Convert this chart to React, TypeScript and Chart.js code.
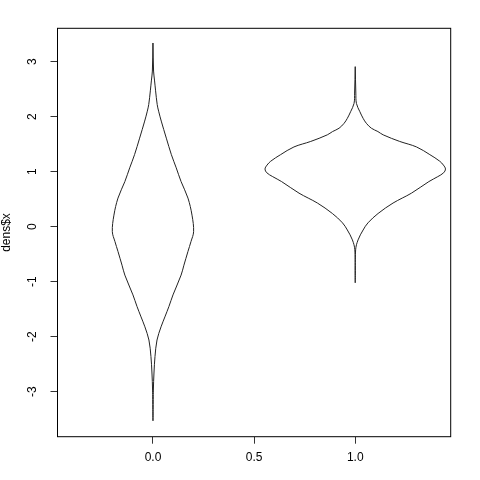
import React, { useEffect, useRef } from "react";
import { Chart, registerables } from "chart.js";

Chart.register(...registerables);

// Axis ticks
const xTickValues = [0, 0.5, 1];
const yTickValues = [-3, -2, -1, 0, 1, 2, 3];
const yAxisTitle = "dens$x";

// Violin centres (x) and half-width profiles
const violinCenters = [0, 1];

const violin1Y = [3.34, 2.83, 2.65, 2.47, 2.22, 2.1, 1.92, 1.61, 1.31, 1.07, 0.82, 0.52, 0.21, -0.09, -0.27, -0.45, -0.7, -0.88, -1.24, -1.45, -1.64, -1.82, -2.06, -2.36, -2.66, -2.97, -3.53];
const violin1W = [0, 0.003, 0.008, 0.013, 0.021, 0.028, 0.041, 0.066, 0.091, 0.115, 0.139, 0.173, 0.193, 0.201, 0.188, 0.173, 0.153, 0.139, 0.099, 0.079, 0.059, 0.04, 0.02, 0.01, 0.005, 0.002, 0];

const violin2Y = [2.91, 2.43, 2.24, 2.09, 1.97, 1.88, 1.79, 1.73, 1.67, 1.55, 1.45, 1.31, 1.19, 1.12, 1.05, 0.98, 0.91, 0.82, 0.61, 0.43, 0.24, 0.07, -0.06, -0.24, -0.42, -1.02];
const violin2W = [0, 0.003, 0.006, 0.023, 0.039, 0.055, 0.08, 0.112, 0.138, 0.22, 0.303, 0.369, 0.418, 0.436, 0.446, 0.437, 0.408, 0.364, 0.278, 0.187, 0.113, 0.063, 0.039, 0.014, 0.002, 0];

const xMin = -0.472;
const xMax = 1.472;
const yMin = -3.818;
const yMax = 3.607;

function outline(center: number, ys: number[], ws: number[]) {
  const right = ys.map((y, i) => ({ x: center + ws[i], y }));
  const left = ys
    .slice(0, -1)
    .map((y, i) => ({ x: center - ws[i], y }))
    .reverse();
  return [...right, ...left];
}

const boxPlugin = {
  id: "rbox",
  afterDraw(chart: any) {
    const { ctx, chartArea } = chart;
    const { left, top, right, bottom } = chartArea;
    ctx.save();
    ctx.strokeStyle = "#000";
    ctx.lineWidth = 1;
    ctx.strokeRect(left, top, right - left, bottom - top);
    ctx.restore();
  },
};

export default function App() {
  const canvasRef = useRef<HTMLCanvasElement | null>(null);

  useEffect(() => {
    if (!canvasRef.current) return;
    Chart.defaults.font.family = "'Liberation Sans', Arial, Helvetica, sans-serif";
    Chart.defaults.font.size = 12;
    Chart.defaults.color = "#000";

    const lineStyle = {
      showLine: true,
      pointRadius: 0,
      pointHoverRadius: 0,
      borderColor: "#222",
      borderWidth: 1,
      tension: 0.35,
      fill: false,
    };

    const chart = new Chart(canvasRef.current, {
      type: "scatter",
      data: {
        datasets: [
          { ...lineStyle, data: outline(violinCenters[0], violin1Y, violin1W) },
          { ...lineStyle, data: outline(violinCenters[1], violin2Y, violin2W) },
        ],
      },
      options: {
        animation: false,
        responsive: true,
        maintainAspectRatio: false,
        layout: { padding: { top: 28.3, right: 29.3, bottom: 0, left: 0 } },
        plugins: { legend: { display: false }, tooltip: { enabled: false } },
        scales: {
          x: {
            type: "linear",
            min: xMin,
            max: xMax,
            afterBuildTicks: (s: any) => {
              s.ticks = xTickValues.map((v) => ({ value: v }));
            },
            afterFit: (s: any) => {
              s.height = 43.3;
            },
            ticks: {
              callback: (v: any) => Number(v).toFixed(1),
              color: "#000",
              padding: 7,
              maxRotation: 0,
              minRotation: 0,
              autoSkip: false,
            },
            grid: { drawOnChartArea: false, drawTicks: true, tickLength: 7, color: "#333" },
            border: { display: false },
          },
          y: {
            type: "linear",
            min: yMin,
            max: yMax,
            afterBuildTicks: (s: any) => {
              s.ticks = yTickValues.map((v) => ({ value: v }));
            },
            afterFit: (s: any) => {
              s.width = 57.5;
            },
            ticks: {
              callback: (v: any) => String(v),
              color: "#000",
              minRotation: 90,
              maxRotation: 90,
              crossAlign: "center",
              padding: 12,
              autoSkip: false,
            },
            grid: { drawOnChartArea: false, drawTicks: true, tickLength: 7, color: "#333" },
            border: { display: false },
            title: {
              display: true,
              text: yAxisTitle,
              color: "#000",
              font: { size: 12, lineHeight: 1 },
              padding: { top: 1, bottom: 0 },
            },
          },
        },
      },
      plugins: [boxPlugin],
    } as any);

    return () => chart.destroy();
  }, []);

  return (
    <div style={{ position: "fixed", left: 0, top: 0, width: 480, height: 480, background: "#fff" }}>
      <canvas ref={canvasRef} />
    </div>
  );
}
